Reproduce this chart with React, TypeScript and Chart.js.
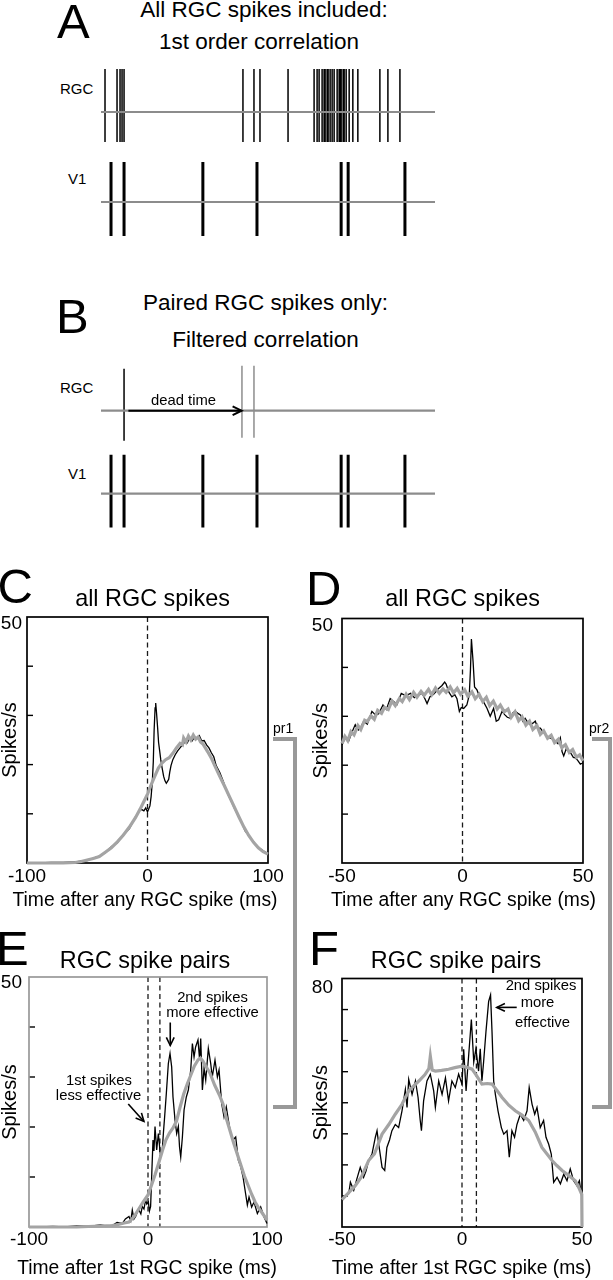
import React, { useEffect, useRef } from "react";
import { Chart, registerables } from "chart.js";

Chart.register(...registerables);

const SANS = '"Liberation Sans", Arial, Helvetica, sans-serif';
const GRAY_CURVE = "#a4a4a4";
const GRAY_LINE = "#8c8c8c";

// ---------------- Panels A & B : spike trains (ms inside a 1000 ms window)
const TRAIN_RANGE = [0, 1000];
const RGC_SPIKES_A = [12, 48, 57, 63, 69, 425, 458, 476, 560, 638, 647, 653, 662, 668, 671, 677, 680, 686, 692, 698, 707, 713, 716, 719, 725, 728, 734, 743, 754, 769, 835, 859, 895];
const V1_SPIKES = [30, 69, 305, 467, 719, 740, 910];
const RGC_KEPT_B = [69];
const RGC_DROPPED_B = [422, 458];
const DEAD_TIME_MS = [82, 421];

// ---------------- Panel C : all RGC spikes, pair 1
const C_X_TICKS = [-100, 0, 100];
const C_Y_MAX = 50;
const C_DASHES = [0];
const C_GRAY: [number, number][] = [
  [-100, 0], [-90, 0], [-80, 0], [-70, 0], [-60, 0.1], [-55, 0.3], [-50, 0.6], [-45, 0.9], [-40, 1.3], [-35, 2.2],
  [-30, 3.1], [-25, 4.3], [-20, 5.7], [-15, 7.3], [-10, 9.2], [-6, 11.0], [-3, 12.5], [0, 14.0], [3, 15.9], [6, 17.6],
  [9, 19.3], [12, 20.3], [15, 21.0], [18, 21.4], [21, 22.3], [24, 23.4], [27, 24.3], [29, 24.0], [30, 25.4], [32, 24.6],
  [34, 25.8], [36, 25.0], [38, 26.0], [40, 25.2], [42, 25.6], [44, 24.6], [46, 24.2], [48, 23.4], [50, 22.6], [53, 21.3],
  [56, 19.7], [60, 17.6], [64, 15.6], [68, 13.5], [72, 11.4], [76, 9.3], [80, 7.3], [84, 5.6], [88, 4.2], [92, 3.1],
  [96, 2.3], [100, 1.8],
];
const C_BLACK: [number, number][] = [
  [-100, 0], [-90, 0], [-80, 0.1], [-70, 0.1], [-60, 0.2], [-55, 0.4], [-50, 0.5], [-45, 1.0], [-40, 1.4], [-35, 2.1],
  [-30, 3.3], [-25, 4.1], [-20, 5.8], [-15, 7.0], [-10, 9.4], [-7, 10.5], [-5, 10.9], [-3, 10.6], [-1.5, 11.2], [0, 10.4],
  [1, 11.0], [2, 11.6], [3, 13.5], [4, 16.5], [4.8, 20.5], [5.5, 27.0], [6.3, 31.5], [6.8, 32.5], [7.5, 30.5], [8.4, 27.5],
  [9.2, 24.5], [10.1, 22.8], [11, 21.0], [12, 19.5], [13.4, 17.6], [14.5, 16.7], [15.6, 16.2], [16.6, 16.6], [17.6, 17.0],
  [18.5, 18.5], [19.5, 19.8], [21, 21.0], [23, 22.0], [25, 22.8], [27, 23.4], [29, 24.0], [31, 24.6], [33, 24.4], [35, 25.4],
  [37, 24.8], [39, 25.6], [41, 25.4], [43, 25.9], [45, 24.8], [47, 24.9], [49, 24.0], [51, 23.4], [53, 22.4], [55, 21.6],
  [57, 19.8], [60, 18.4], [63, 16.5], [66, 14.4], [69, 12.8], [72, 11.2], [75, 9.8], [78, 8.3], [81, 6.5], [84, 5.6],
  [87, 4.6], [90, 3.7], [93, 3.0], [96, 2.5], [100, 1.8],
];

// ---------------- Panel D : all RGC spikes, pair 2
const D_X_TICKS = [-50, 0, 50];
const D_Y_MAX = 50;
const D_DASHES = [0];
const D_GRAY: [number, number][] = [
  [-50, 24.4], [-48.8, 25.9], [-47.6, 25.0], [-46.3, 26.9], [-45, 26.2], [-43.4, 28.1], [-42.2, 27.3], [-40.6, 29.2],
  [-39.5, 28.9], [-38, 30.1], [-36.6, 29.4], [-35.2, 31.2], [-33.6, 30.6], [-32.4, 31.8], [-30.8, 31.4], [-29.3, 33.1],
  [-27.9, 32.2], [-26.2, 33.6], [-25, 33.0], [-23.4, 34.5], [-22, 33.4], [-20.3, 34.9], [-18.9, 33.9], [-17.2, 35.1],
  [-15.9, 34.3], [-14.1, 35.5], [-12.8, 34.4], [-11.2, 35.8], [-9.6, 34.7], [-8.1, 35.6], [-6.8, 34.9], [-5.1, 36.0],
  [-3.7, 34.8], [-2.2, 35.7], [-0.8, 34.5], [0.9, 35.4], [2.2, 34.1], [3.9, 35.0], [5.3, 33.6], [6.9, 34.5], [8.4, 33.0],
  [9.9, 33.9], [11.3, 32.2], [12.8, 33.1], [14.4, 31.5], [15.7, 32.3], [17.3, 30.9], [18.9, 31.5], [20.2, 29.8], [21.8, 30.9],
  [23.3, 29.1], [24.7, 29.9], [26.3, 28.2], [27.8, 29.0], [29.2, 27.3], [30.9, 28.1], [32.3, 26.3], [33.7, 27.0], [35.3, 25.5],
  [36.8, 26.1], [38.2, 24.6], [39.8, 25.3], [41.2, 23.6], [42.7, 24.2], [44.3, 22.6], [45.7, 23.2], [47.3, 21.6], [48.6, 22.1],
  [50, 20.9],
];
const D_BLACK: [number, number][] = [
  [-50, 24.2], [-48.8, 25.4], [-47.2, 25.0], [-46, 26.6], [-44.5, 28.3], [-43.2, 27.2], [-42.4, 27.6], [-41, 29.0], [-39.5, 28.4],
  [-37.6, 31.0], [-36, 30.2], [-34.8, 30.5], [-33, 32.3], [-31.6, 31.4], [-30, 33.6], [-28.5, 33.0], [-27.2, 32.4], [-25.4, 34.7],
  [-23.5, 34.2], [-21.6, 34.7], [-20, 33.8], [-18.5, 34.3], [-16.8, 34.7], [-15.6, 33.6], [-14.7, 32.6], [-13.5, 34.0], [-12, 34.5],
  [-10.7, 35.2], [-9.9, 35.7], [-8.5, 36.3], [-7.4, 37.0], [-6.8, 36.6], [-5.7, 35.0], [-4.4, 34.0], [-3.2, 34.4], [-2.3, 33.6],
  [-1.3, 31.0], [-0.5, 31.8], [0.5, 31.6], [1.8, 32.3], [2.8, 34.3], [3.3, 39.5], [3.7, 45.8], [4.4, 41.1], [5.0, 36.0], [6.0, 35.4],
  [7.4, 33.6], [8.8, 32.9], [10.2, 31.6], [11.5, 30.0], [12.9, 31.6], [14, 29.0], [15, 29.3], [16.4, 31.0], [17.6, 30.3], [18.6, 29.8],
  [19.8, 29.6], [21, 30.8], [21.9, 31.0], [23, 30.6], [24, 30.3], [25, 29.0], [26, 29.6], [27, 28.8], [28.1, 28.3], [29.2, 28.6],
  [30.2, 29.0], [31.2, 27.6], [32.3, 27.6], [33.4, 26.8], [34.4, 26.3], [35.4, 25.6], [36.4, 25.6], [37.5, 25.3], [38.5, 24.9],
  [39.6, 24.4], [40.6, 25.6], [41.3, 22.8], [42, 21.9], [43, 23.3], [44, 22.9], [45, 22.4], [46, 21.6], [46.8, 21.5], [47.8, 21.0],
  [48.9, 20.2], [50, 20.5],
];

// ---------------- Panel E : RGC spike pairs, pair 1
const E_X_TICKS = [-100, 0, 100];
const E_Y_MAX = 50;
const E_DASHES = [0, 10];
const E_GRAY: [number, number][] = [
  [-100, 0], [-60, 0], [-50, 0.1], [-40, 0.2], [-30, 0.3], [-25, 0.5], [-20, 0.8], [-16, 1.0], [-12, 2.0], [-8, 3.5],
  [-4, 5.0], [0, 6.4], [3, 8.4], [6, 10.5], [9, 12.8], [12, 15.2], [15, 17.4], [18, 18.8], [21, 19.8], [24, 21.2],
  [27, 24.0], [30, 26.6], [33, 28.6], [36, 30.4], [39, 32.2], [42, 33.4], [44, 33.8], [46, 33.2], [48, 32.4], [50, 31.6],
  [52, 30.8], [54, 29.6], [56, 28.4], [58, 27.4], [60, 26.4], [63, 24.6], [66, 21.6], [69, 19.2], [72, 16.8], [75, 14.6],
  [78, 12.4], [81, 10.2], [84, 8.4], [87, 6.6], [90, 5.0], [93, 3.8], [96, 2.8], [100, 1.4],
];
const E_BLACK: [number, number][] = [
  [-100, 0], [-90, 0], [-80, 0.1], [-70, 0], [-60, 0.2], [-50, 0.1], [-40, 0.4], [-35, 0.2], [-30, 0.3], [-26, 0.9],
  [-21.6, 0.7], [-19, 1.6], [-16, 2.1], [-14.5, 1.2], [-13.2, 3.4], [-11.8, 1.6], [-10.4, 2.1], [-9, 3.0], [-7.6, 3.4], [-6, 2.6],
  [-4.8, 4.1], [-3.4, 3.6], [-2, 5.4], [-1, 4.6], [0.3, 5.0], [1.2, 3.2], [2.2, 4.1], [3.2, 10.8], [4.2, 17.4], [5, 15.2],
  [5.9, 20.1], [7.3, 15.4], [8.7, 18.7], [10.6, 14.0], [12, 15.4], [13, 19.0], [14, 22.1], [15.4, 26.7], [17.1, 32.7], [18.5, 34.7],
  [19.9, 32.0], [21, 26.0], [22.7, 21.4], [24.1, 18.7], [25.5, 20.1], [26.5, 16.0], [27.5, 14.0], [28.9, 18.0], [30.3, 23.4],
  [32.2, 26.0], [33.9, 27.4], [35.9, 31.4], [37.3, 36.7], [38.7, 34.0], [40, 36.0], [42, 37.4], [43.4, 33.4], [44.3, 37.7],
  [45.7, 27.4], [47.1, 31.7], [48.5, 29.4], [50.7, 35.7], [52.7, 32.7], [54, 30.0], [56.3, 33.4], [58.3, 30.0], [59.7, 31.4],
  [61.9, 24.7], [63.9, 22.0], [65.8, 24.0], [68, 20.7], [69.5, 18.7], [71.4, 17.4], [73.7, 18.0], [75.9, 13.4], [77.9, 12.1],
  [79.8, 10.1], [82, 6.7], [83.5, 4.4], [84.9, 6.0], [87.1, 4.0], [89.1, 5.0], [91.9, 2.7], [94.7, 4.0], [97.5, 2.0], [100, 0.7],
];

// ---------------- Panel F : RGC spike pairs, pair 2
const F_X_TICKS = [-50, 0, 50];
const F_Y_MAX = 80;
const F_DASHES = [0, 6];
const F_GRAY: [number, number][] = [
  [-50, 8.8], [-47.5, 10.8], [-44.4, 13.4], [-42, 16.0], [-38.9, 21.4], [-36.5, 23.5], [-33.3, 29.9], [-30.5, 33.0], [-27.8, 36.3],
  [-25, 39.5], [-22.2, 43.8], [-20, 45.5], [-18, 47.0], [-15.5, 49.0], [-13.8, 51.0], [-13.2, 55.0], [-12.4, 50.5], [-11.1, 50.2],
  [-8.5, 50.4], [-5.6, 50.8], [-3, 51.3], [0, 51.8], [2, 51.4], [4.2, 50.8], [6, 48.8], [8.3, 46.0], [10.5, 46.2], [12.5, 46.0],
  [14.5, 44.0], [16.7, 41.7], [19.5, 39.2], [22.2, 37.4], [25, 36.0], [27.8, 34.3], [30.5, 30.6], [33.3, 25.6], [35.5, 23.4],
  [37.5, 21.4], [39.5, 19.8], [41.7, 18.2], [44.5, 16.6], [47.2, 14.9], [48.9, 12.3], [49.9, 10.5], [50, 0],
];
const F_BLACK: [number, number][] = [
  [-50, 8.6], [-48.5, 9.8], [-47.2, 10.7], [-46.5, 14.4], [-45.1, 11.8], [-43.8, 15.5], [-42.4, 19.2], [-41, 16.0], [-40, 18.0],
  [-38.9, 21.4], [-37.5, 23.5], [-36.1, 28.9], [-35.4, 31.0], [-34.7, 26.7], [-33.3, 19.2], [-32.2, 18.2], [-31.3, 25.6],
  [-30.2, 28.0], [-29.2, 31.0], [-27.8, 33.0], [-26.4, 32.0], [-25, 37.4], [-23.6, 44.3], [-22.9, 38.5], [-22.2, 47.5],
  [-20.8, 42.7], [-19.4, 47.0], [-18.3, 41.7], [-17.4, 34.3], [-16.9, 31.0], [-16, 40.6], [-14.6, 47.0], [-13.2, 49.2],
  [-11.8, 43.8], [-11.1, 38.5], [-9.7, 47.0], [-8.3, 42.7], [-6.9, 48.0], [-5.6, 40.6], [-4.2, 47.0], [-2.8, 44.9], [-1.4, 49.2],
  [0, 46.0], [0.7, 57.2], [1.7, 43.8], [2.5, 52.4], [3.9, 66.8], [4.9, 53.1], [5.8, 57.4], [6.9, 50.2], [7.6, 57.4], [8.3, 47.0],
  [9, 53.1], [10, 63.0], [11.1, 72.6], [11.9, 74.7], [12.5, 63.0], [13.2, 47.0], [13.9, 42.7], [15, 37.4], [16.4, 32.0],
  [17.4, 29.9], [18.75, 31.0], [19.7, 22.5], [20.8, 31.0], [21.9, 28.9], [22.9, 33.0], [24.3, 36.3], [25.7, 34.3], [27.1, 37.4],
  [28, 44.9], [29.2, 39.5], [30.3, 36.3], [31.25, 38.5], [32.6, 32.0], [34, 34.3], [35, 28.9], [36.1, 26.7], [37.2, 23.5],
  [38.2, 14.4], [39.6, 16.0], [41, 13.9], [42.4, 17.0], [43.75, 14.9], [45.1, 18.7], [46.5, 14.9], [47.9, 13.3], [48.9, 14.9],
  [49.7, 10.7], [50, 12.0],
];

// annotation arrows (data coordinates: ms, spikes/s)
const E_ARROWS = [
  { from: [18.7, 40.9], to: [18.7, 36.3] },
  { from: [-16.6, 24.6], to: [-3.4, 21.1] },
];
const F_ARROWS = [{ from: [22.8, 70.7], to: [14.5, 70.7] }];

// ------------------------------------------------------------
function drawArrow(ctx: CanvasRenderingContext2D, x1: number, y1: number, x2: number, y2: number, w: number, head: number) {
  const ang = Math.atan2(y2 - y1, x2 - x1);
  ctx.save();
  ctx.strokeStyle = "#000";
  ctx.lineWidth = w;
  ctx.lineCap = "butt";
  ctx.beginPath();
  ctx.moveTo(x1, y1);
  ctx.lineTo(x2, y2);
  ctx.stroke();
  ctx.beginPath();
  ctx.moveTo(x2 - head * Math.cos(ang - 0.45), y2 - head * Math.sin(ang - 0.45));
  ctx.lineTo(x2, y2);
  ctx.lineTo(x2 - head * Math.cos(ang + 0.45), y2 - head * Math.sin(ang + 0.45));
  ctx.stroke();
  ctx.restore();
}

type Train = { times: number[]; color: string; width: number; up: number; down: number };
type Row = { level: number; trains: Train[] };

function SpikePanel({ top, unit, rows, arrow }: { top: number; unit: number; rows: Row[]; arrow?: { from: number; to: number; level: number } }) {
  const ref = useRef<HTMLCanvasElement>(null);
  const height = Math.round(unit * 2.1);
  useEffect(() => {
    const datasets: any[] = [];
    rows.forEach((r) =>
      datasets.push({
        data: [{ x: TRAIN_RANGE[0], y: r.level }, { x: TRAIN_RANGE[1], y: r.level }],
        borderColor: GRAY_LINE,
        borderWidth: 2.2,
        pointRadius: 0,
      })
    );
    rows.forEach((r) =>
      r.trains.forEach((tr) =>
        datasets.push({
          data: tr.times.flatMap((t) => [
            { x: t, y: r.level - tr.down },
            { x: t, y: r.level + tr.up },
            { x: t, y: null },
          ]),
          borderColor: tr.color,
          borderWidth: tr.width,
          pointRadius: 0,
          spanGaps: false,
        })
      )
    );
    const arrowPlugin = {
      id: "deadTime",
      afterDatasetsDraw(chart: any) {
        if (!arrow) return;
        const { x, y } = chart.scales;
        const py = y.getPixelForValue(arrow.level);
        drawArrow(chart.ctx, x.getPixelForValue(arrow.from), py, x.getPixelForValue(arrow.to), py, 2, 10);
      },
    };
    const chart = new Chart(ref.current as HTMLCanvasElement, {
      type: "line",
      data: { datasets },
      options: {
        animation: false,
        responsive: false,
        maintainAspectRatio: false,
        events: [],
        layout: { padding: 0 },
        plugins: { legend: { display: false }, tooltip: { enabled: false } },
        scales: {
          x: { type: "linear", min: TRAIN_RANGE[0], max: TRAIN_RANGE[1], display: false },
          y: { type: "linear", min: -0.5, max: 1.6, display: false },
        },
      } as any,
      plugins: [arrowPlugin],
    });
    return () => chart.destroy();
  }, []);
  return (
    <canvas
      ref={ref}
      width={334}
      height={height}
      style={{ position: "absolute", left: 101, top, width: 334, height, display: "block" }}
    />
  );
}

type PsthProps = {
  box: { left: number; top: number; width: number; height: number };
  area: { l: number; t: number; r: number; b: number };
  gray: [number, number][];
  black: [number, number][];
  xTicks: number[];
  yMax: number;
  yStep: number;
  dashes: number[];
  frame: string;
  tickPad: number;
  yLabelPad: number;
  yLabelShift: number;
  yTitlePad: number;
  arrows?: { from: number[]; to: number[] }[];
};

function Psth(p: PsthProps) {
  const ref = useRef<HTMLCanvasElement>(null);
  useEffect(() => {
    const { box, area } = p;
    const padTop = area.t - box.top;
    const padRight = box.left + box.width - area.r;
    const yW = area.l - box.left;
    const xH = box.top + box.height - area.b;
    const deco = {
      id: "deco",
      beforeDatasetsDraw(chart: any) {
        const { ctx, chartArea: a, scales } = chart;
        const { x, y } = scales;
        ctx.save();
        ctx.strokeStyle = "#1a1a1a";
        ctx.lineWidth = 1.3;
        ctx.setLineDash([5, 3.5]);
        p.dashes.forEach((d) => {
          const px = x.getPixelForValue(d);
          ctx.beginPath();
          ctx.moveTo(px, a.top);
          ctx.lineTo(px, a.bottom);
          ctx.stroke();
        });
        ctx.setLineDash([]);
        ctx.strokeStyle = "#000";
        ctx.lineWidth = 1.4;
        for (let v = p.yStep; v < p.yMax - 1e-6; v += p.yStep) {
          const py = y.getPixelForValue(v);
          ctx.beginPath();
          ctx.moveTo(a.left, py);
          ctx.lineTo(a.left + 6, py);
          ctx.stroke();
        }
        ctx.strokeStyle = p.frame;
        ctx.lineWidth = 1.7;
        ctx.strokeRect(a.left, a.top, a.right - a.left, a.bottom - a.top);
        ctx.restore();
      },
      afterDatasetsDraw(chart: any) {
        const { x, y } = chart.scales;
        (p.arrows || []).forEach((ar) =>
          drawArrow(chart.ctx, x.getPixelForValue(ar.from[0]), y.getPixelForValue(ar.from[1]), x.getPixelForValue(ar.to[0]), y.getPixelForValue(ar.to[1]), 1.6, 9)
        );
      },
    };
    const tickFont = { family: SANS, size: 19, lineHeight: 1 };
    const chart = new Chart(ref.current as HTMLCanvasElement, {
      type: "line",
      data: {
        datasets: [
          {
            data: p.gray.map(([x, y]) => ({ x, y })),
            borderColor: GRAY_CURVE,
            borderWidth: 3.2,
            pointRadius: 0,
            tension: 0,
            clip: false,
          },
          {
            data: p.black.map(([x, y]) => ({ x, y })),
            borderColor: "#000",
            borderWidth: 1.3,
            pointRadius: 0,
            tension: 0,
            clip: false,
          },
        ],
      },
      options: {
        animation: false,
        responsive: false,
        maintainAspectRatio: false,
        events: [],
        layout: { padding: { top: padTop, right: padRight, left: 0, bottom: 0 } },
        plugins: { legend: { display: false }, tooltip: { enabled: false } },
        scales: {
          x: {
            type: "linear",
            min: p.xTicks[0],
            max: p.xTicks[p.xTicks.length - 1],
            grid: { display: false, drawTicks: false },
            border: { display: false },
            ticks: { color: "#000", font: tickFont, padding: p.tickPad, maxRotation: 0, autoSkip: false },
            afterBuildTicks: (s: any) => {
              s.ticks = p.xTicks.map((v) => ({ value: v }));
            },
            afterFit: (s: any) => {
              s.height = xH;
            },
          },
          y: {
            type: "linear",
            min: 0,
            max: p.yMax,
            grid: { display: false, drawTicks: false },
            border: { display: false },
            ticks: { color: "#000", font: tickFont, padding: p.yLabelPad, labelOffset: p.yLabelShift },
            afterBuildTicks: (s: any) => {
              s.ticks = [{ value: p.yMax }];
            },
            title: {
              display: true,
              text: "Spikes/s",
              color: "#000",
              font: { family: SANS, size: 20, lineHeight: 1 },
              padding: { top: p.yTitlePad, bottom: 0 },
            },
            afterFit: (s: any) => {
              s.width = yW;
            },
          },
        },
      } as any,
      plugins: [deco],
    });
    return () => chart.destroy();
  }, []);
  const { box } = p;
  return (
    <canvas
      ref={ref}
      width={box.width}
      height={box.height}
      style={{ position: "absolute", left: box.left, top: box.top, width: box.width, height: box.height, display: "block" }}
    />
  );
}

function Txt({ x, y, s, c, children }: { x: number; y: number; s: number; c?: boolean; children: React.ReactNode }) {
  return (
    <div
      style={{
        position: "absolute",
        left: x,
        top: y,
        fontSize: s,
        lineHeight: 1,
        fontFamily: SANS,
        color: "#000",
        whiteSpace: "nowrap",
        transform: c ? "translateX(-50%)" : undefined,
      }}
    >
      {children}
    </div>
  );
}

export default function App() {
  const rgcA: Train = { times: RGC_SPIKES_A, color: "#000", width: 1.5, up: 0.478, down: 0.333 };
  const v1A: Train = { times: V1_SPIKES, color: "#000", width: 3, up: 0.444, down: 0.378 };
  const rgcB: Train = { times: RGC_KEPT_B, color: "#000", width: 1.5, up: 0.506, down: 0.361 };
  const rgcB2: Train = { times: RGC_DROPPED_B, color: "#959595", width: 1.6, up: 0.542, down: 0.325 };
  const v1B: Train = { times: V1_SPIKES, color: "#000", width: 3, up: 0.47, down: 0.41 };
  return (
    <div style={{ position: "absolute", left: 0, top: 0, width: 613, height: 1280, background: "#fff", overflow: "hidden" }}>
      <SpikePanel top={58} unit={90} rows={[{ level: 1, trains: [rgcA] }, { level: 0, trains: [v1A] }]} />
      <SpikePanel
        top={361.2}
        unit={83}
        rows={[{ level: 1, trains: [rgcB, rgcB2] }, { level: 0, trains: [v1B] }]}
        arrow={{ from: DEAD_TIME_MS[0], to: DEAD_TIME_MS[1], level: 1 }}
      />
      <Psth
        box={{ left: 0, top: 600, width: 300, height: 312 }}
        area={{ l: 27, t: 617, r: 268, b: 863 }}
        gray={C_GRAY}
        black={C_BLACK}
        xTicks={C_X_TICKS}
        yMax={C_Y_MAX}
        yStep={10}
        dashes={C_DASHES}
        frame="#000"
        tickPad={4}
        yLabelPad={5}
        yLabelShift={7}
        yTitlePad={0.5}
      />
      <Psth
        box={{ left: 305, top: 600, width: 300, height: 312 }}
        area={{ l: 342, t: 616, r: 583, b: 863 }}
        gray={D_GRAY}
        black={D_BLACK}
        xTicks={D_X_TICKS}
        yMax={D_Y_MAX}
        yStep={10}
        dashes={D_DASHES}
        frame="#000"
        tickPad={4}
        yLabelPad={9}
        yLabelShift={7}
        yTitlePad={6.5}
      />
      <Psth
        box={{ left: 0, top: 960, width: 300, height: 320 }}
        area={{ l: 29, t: 977, r: 267, b: 1227 }}
        gray={E_GRAY}
        black={E_BLACK}
        xTicks={E_X_TICKS}
        yMax={E_Y_MAX}
        yStep={10}
        dashes={E_DASHES}
        frame="#999"
        tickPad={3}
        yLabelPad={7}
        yLabelShift={6}
        yTitlePad={0}
        arrows={E_ARROWS}
      />
      <Psth
        box={{ left: 305, top: 960, width: 300, height: 320 }}
        area={{ l: 342, t: 977, r: 582, b: 1227 }}
        gray={F_GRAY}
        black={F_BLACK}
        xTicks={F_X_TICKS}
        yMax={F_Y_MAX}
        yStep={10}
        dashes={F_DASHES}
        frame="#000"
        tickPad={3}
        yLabelPad={9}
        yLabelShift={9}
        yTitlePad={6.5}
        arrows={F_ARROWS}
      />

      {/* brackets linking panels */}
      <div style={{ position: "absolute", left: 273, top: 737, width: 24, height: 372, boxSizing: "border-box", border: "4px solid #999", borderLeft: "none" }} />
      <div style={{ position: "absolute", left: 592, top: 737, width: 20, height: 372, boxSizing: "border-box", border: "4px solid #999", borderLeft: "none" }} />

      {/* panel letters */}
      <Txt x={57} y={-3} s={49}>A</Txt>
      <Txt x={56} y={292} s={49}>B</Txt>
      <Txt x={-2.5} y={562} s={49}>C</Txt>
      <Txt x={306} y={564} s={49}>D</Txt>
      <Txt x={-4} y={924} s={49}>E</Txt>
      <Txt x={309} y={924} s={49}>F</Txt>

      {/* panel titles */}
      <Txt x={264} y={-1} s={22.5} c>All RGC spikes included:</Txt>
      <Txt x={259} y={31} s={22.5} c>1st order correlation</Txt>
      <Txt x={265.5} y={292} s={22.5} c>Paired RGC spikes only:</Txt>
      <Txt x={265.5} y={329} s={22.5} c>Filtered correlation</Txt>
      <Txt x={152.5} y={587} s={23.4} c>all RGC spikes</Txt>
      <Txt x={462.5} y={587} s={23.4} c>all RGC spikes</Txt>
      <Txt x={145} y={949} s={23.4} c>RGC spike pairs</Txt>
      <Txt x={456} y={949} s={23.4} c>RGC spike pairs</Txt>

      {/* spike train labels */}
      <Txt x={60} y={81.3} s={15}>RGC</Txt>
      <Txt x={68} y={171} s={15}>V1</Txt>
      <Txt x={60} y={379.7} s={15}>RGC</Txt>
      <Txt x={68} y={466} s={15}>V1</Txt>
      <Txt x={151} y={393} s={14.8}>dead time</Txt>

      {/* x-axis titles */}
      <Txt x={145} y={889.5} s={19.3} c>Time after any RGC spike (ms)</Txt>
      <Txt x={463.5} y={889.5} s={19.3} c>Time after any RGC spike (ms)</Txt>
      <Txt x={147} y={1257.5} s={19.3} c>Time after 1st RGC spike (ms)</Txt>
      <Txt x={461.5} y={1257.5} s={19.3} c>Time after 1st RGC spike (ms)</Txt>

      {/* bracket labels */}
      <Txt x={273} y={721} s={14}>pr1</Txt>
      <Txt x={589} y={721} s={14}>pr2</Txt>

      {/* annotations */}
      <Txt x={212.5} y={989.8} s={14.8} c>2nd spikes</Txt>
      <Txt x={212.5} y={1004.8} s={14.8} c>more effective</Txt>
      <Txt x={99} y={1073} s={14.8} c>1st spikes</Txt>
      <Txt x={98.5} y={1088} s={14.8} c>less effective</Txt>
      <Txt x={541} y={978} s={14.8} c>2nd spikes</Txt>
      <Txt x={537.5} y={995.2} s={14.8} c>more</Txt>
      <Txt x={542.5} y={1014.8} s={14.8} c>effective</Txt>
    </div>
  );
}
